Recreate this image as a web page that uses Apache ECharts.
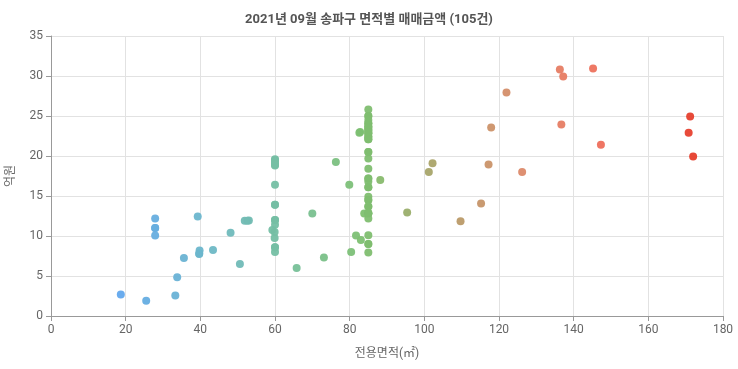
<!DOCTYPE html>
<html>
<head>
<meta charset="utf-8">
<script src="https://cdn.jsdelivr.net/npm/echarts@6/dist/echarts.min.js"></script>
<style>
  html, body { margin: 0; padding: 0; background: #fff; }
  #chart { width: 738px; height: 369px; }
</style>
</head>
<body>
<div id="chart"></div>
<script>
// 전용면적(㎡)
var area = [
    18.7, 25.5, 33.3, 33.8, 35.6, 27.9, 27.9, 27.9, 39.3, 39.8, 39.7, 43.4, 48.1, 50.6, 51.9, 53.0, 65.8,
    60.0, 60.0, 60.0, 60.0, 60.0, 60.0, 60.0, 59.3, 59.9, 59.9, 60.0, 60.0,
    70.0, 73.1, 76.3, 79.9, 80.4, 81.7, 83.0, 82.8, 83.9, 88.2,
    85.0, 85.0, 85.0, 85.0, 85.0, 85.0, 85.0, 85.0, 85.0, 85.0, 85.0, 85.0, 85.0, 85.0, 85.0, 85.0, 85.0, 85.0, 85.0, 85.0, 85.0, 85.0,
    95.4, 101.2, 102.2, 109.7, 115.2, 117.2, 117.9, 122.0, 126.2, 136.3, 137.2, 136.7, 145.2, 147.3, 171.2, 170.8, 172.0,
    // 겹친 거래
    85.0, 85.0, 85.0, 85.0, 85.0, 85.0, 85.0, 85.0, 85.0, 85.0, 85.0, 85.0, 85.0, 85.0, 85.0, 85.0, 85.0,
    60.0, 60.0, 60.0, 60.0, 60.0, 27.9, 39.7, 52.6, 82.6, 85.0
]
// 매매금액(억원)
var price = [
    2.7, 1.9, 2.55, 4.85, 7.25, 12.2, 11.0, 10.05, 12.45, 8.2, 7.8, 8.25, 10.4, 6.5, 11.9, 11.95, 6.0,
    19.6, 19.2, 18.8, 16.4, 13.9, 12.0, 11.4, 10.75, 10.5, 9.75, 8.6, 8.0,
    12.8, 7.3, 19.25, 16.4, 8.0, 10.05, 9.5, 23.0, 12.8, 17.0,
    25.8, 25.0, 24.1, 23.7, 23.25, 22.85, 22.4, 22.1, 20.5, 19.7, 18.4, 17.2, 16.8, 16.1, 14.9, 14.5, 13.7, 12.85, 12.2, 10.1, 9.0, 7.95,
    12.95, 18.0, 19.1, 11.85, 14.05, 18.95, 23.55, 27.95, 18.0, 30.8, 29.95, 23.95, 30.95, 21.4, 24.95, 22.9, 19.95,
    25.0, 24.1, 23.7, 23.25, 22.85, 22.4, 22.1, 20.5, 17.2, 16.1, 14.5, 12.85, 23.5, 24.5, 23.0, 13.7, 9.0,
    19.5, 18.9, 12.0, 8.6, 13.9, 11.0, 7.75, 11.9, 22.9, 12.85
]

var xTicks = { min: 0, max: 180, step: 20 }
var yTicks = { min: 0, max: 35, step: 5 }

var points = area.map(function(a, i) { return [a, price[i]] })

var myChart = echarts.init(document.getElementById('chart'))
var option = {
    animation: false,
    textStyle: { fontFamily: 'Roboto, "Noto Sans CJK KR", sans-serif' },
    title: {
        text: '2021년 09월 송파구 면적별 매매금액 (' + area.length + '건)',
        left: 'center',
        top: 8,
        textStyle: { fontSize: 13, fontWeight: 'bold', color: '#555' }
    },
    grid: { left: 51, right: 15, top: 36, bottom: 53, outerBoundsMode: 'none' },
    visualMap: {
        show: false,
        type: 'continuous',
        dimension: 0,
        min: 18,
        max: 172,
        inRange: {
            color: ['#62a8ee', '#6cb6cc', '#76c0a0', '#7ec070', '#b49e68', '#e0886a', '#f06c5a', '#e63e2c']
        }
    },
    xAxis: {
        type: 'value',
        min: xTicks.min,
        max: xTicks.max,
        interval: xTicks.step,
        name: '전용면적(㎡)',
        nameLocation: 'middle',
        nameGap: 32,
        nameTextStyle: { color: '#666', fontSize: 12 },
        axisLine: { show: true, lineStyle: { color: '#999' } },
        axisTick: { show: true, lineStyle: { color: '#999' } },
        axisLabel: { color: '#666', fontSize: 12 },
        splitLine: { show: true, lineStyle: { color: '#e2e2e2' } }
    },
    yAxis: {
        type: 'value',
        min: yTicks.min,
        max: yTicks.max,
        interval: yTicks.step,
        name: '억원',
        nameLocation: 'middle',
        nameGap: 34,
        nameTextStyle: { color: '#666', fontSize: 12 },
        axisLine: { show: true, lineStyle: { color: '#999' } },
        axisTick: { show: true, lineStyle: { color: '#999' } },
        axisLabel: { color: '#666', fontSize: 12 },
        splitLine: { show: true, lineStyle: { color: '#e2e2e2' } }
    },
    series: [{
        type: 'scatter',
        symbolSize: 8,
        itemStyle: { opacity: 0.95 },
        data: points
    }]
}
myChart.setOption(option)
</script>
</body>
</html>
